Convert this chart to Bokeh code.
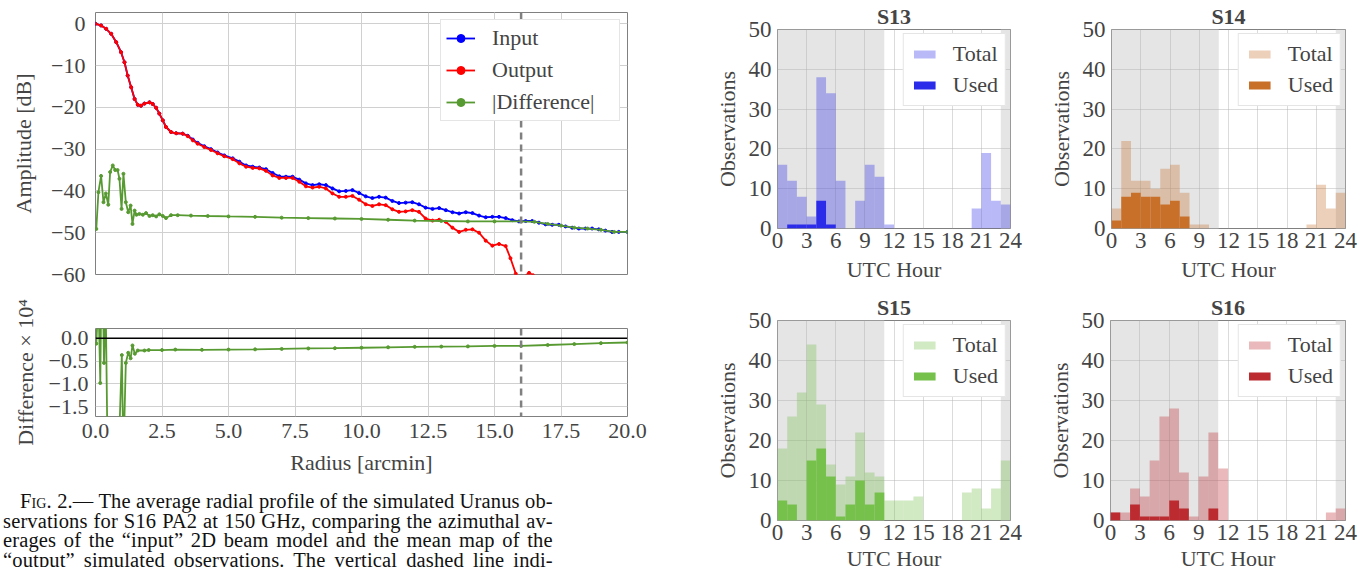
from bokeh.plotting import figure
from bokeh.models import (Range1d, FixedTicker, BoxAnnotation, Legend, Span,
                          LegendItem, Div, Grid, LinearAxis)
from bokeh.layouts import row, column
from bokeh.embed import file_html
from bokeh.resources import INLINE

FONT = "Liberation Serif"

# ---------------- radial profile (left figure) ----------------
r_input = [0.0, 0.21, 0.40, 0.59, 0.78, 0.96, 1.09, 1.21, 1.34, 1.47, 1.59, 1.71,
           1.84, 2.03, 2.15, 2.28, 2.40, 2.53, 2.65, 2.84, 3.03, 3.28, 3.47, 3.66,
           3.84, 4.09, 4.34, 4.59, 4.84, 5.16, 5.41, 5.66, 5.91, 6.16, 6.41, 6.66,
           6.91, 7.16, 7.41, 7.66, 7.91, 8.16, 8.41, 8.66, 8.91, 9.16, 9.41, 9.66,
           9.91, 10.16, 10.41, 10.66, 10.91, 11.16, 11.41, 11.66, 11.91, 12.16,
           12.41, 12.67, 12.92, 13.17, 13.42, 13.67, 13.92, 14.17, 14.42, 14.67,
           14.92, 15.17, 15.42, 15.67, 15.92, 16.17, 16.42, 16.67, 16.92, 17.17,
           17.42, 17.67, 17.92, 18.17, 18.42, 18.67, 18.92, 19.17, 19.42, 19.67, 20.0]
amp_input = [0.0, -0.4, -1.2, -2.4, -4.4, -6.8, -9.2, -12.4, -15.2, -18.0, -19.4, -19.6,
             -19.1, -18.8, -19.2, -20.1, -21.5, -23.1, -24.7, -25.9, -26.2, -26.3, -26.8, -27.7,
             -28.5, -29.3, -30.0, -30.8, -31.5, -32.2, -33.0, -33.9, -34.2, -34.4, -34.8, -35.7,
             -36.5, -36.6, -36.6, -37.3, -38.2, -38.6, -38.4, -38.6, -39.4, -40.1, -40.0, -39.8,
             -40.5, -41.3, -41.7, -41.4, -41.6, -42.4, -42.9, -42.8, -42.7, -43.2,
             -44.0, -44.3, -44.1, -44.6, -45.1, -45.4, -45.1, -45.3, -45.9, -46.3,
             -46.2, -46.2, -46.5, -47.0, -47.3, -47.2, -47.2, -47.6, -48.0, -48.1,
             -48.1, -48.5, -48.8, -49.0, -49.0, -49.0, -49.2, -49.5, -49.8, -49.8, -49.8]

r_output = [0.0, 0.21, 0.40, 0.59, 0.78, 0.96, 1.09, 1.21, 1.34, 1.47, 1.59, 1.71,
            1.84, 2.03, 2.15, 2.28, 2.40, 2.53, 2.65, 2.84, 3.03, 3.28, 3.47, 3.66,
            3.84, 4.09, 4.34, 4.59, 4.84, 5.16, 5.41, 5.66, 5.91, 6.16, 6.41, 6.66,
            6.91, 7.16, 7.41, 7.66, 7.91, 8.16, 8.41, 8.66, 8.91, 9.16, 9.41, 9.66,
            9.91, 10.16, 10.41, 10.66, 10.91, 11.16, 11.41, 11.66, 11.91, 12.16,
            12.41, 12.67, 12.92, 13.17, 13.42, 13.67, 13.92, 14.17, 14.42, 14.67,
            14.92, 15.17, 15.42, 15.60, 15.80, 15.92, 16.10, 16.30, 16.45, 16.60]
amp_output = [0.0, -0.4, -1.2, -2.4, -4.4, -6.8, -9.2, -12.4, -15.2, -18.0, -19.4, -19.6,
              -19.1, -18.8, -19.2, -20.1, -21.5, -23.1, -24.7, -25.9, -26.2, -26.3, -26.9, -27.9,
              -28.7, -29.5, -30.2, -31.0, -31.7, -32.4, -33.4, -34.2, -34.5, -34.6, -35.2, -36.3,
              -36.9, -36.9, -36.9, -37.8, -38.9, -39.2, -39.0, -39.4, -40.6, -41.4, -41.4, -41.2,
              -42.1, -43.2, -43.6, -43.2, -43.4, -44.4, -45.0, -44.9, -44.6, -45.0,
              -46.6, -47.1, -46.9, -47.4, -48.8, -49.8, -49.3, -49.2, -50.0, -51.9,
              -53.1, -52.7, -53.2, -56.1, -59.8, -61.0, -60.6, -59.6, -60.2, -62.0]

r_absdiff = [0.03, 0.11, 0.21, 0.30, 0.39, 0.48, 0.55, 0.65, 0.74, 0.83, 0.90, 0.98,
             1.05, 1.14, 1.23, 1.32, 1.39, 1.47, 1.54, 1.65, 1.78, 1.90, 2.03, 2.15,
             2.28, 2.40, 2.53, 2.65, 2.84, 3.09, 3.59, 4.22, 5.0, 6.0, 7.0, 8.0, 9.0,
             10.0, 11.0, 12.0, 13.0, 14.0, 15.0, 16.0, 16.5, 17.0, 17.5, 18.0, 18.5,
             19.0, 19.5, 20.0]
absdiff_db = [-49.1, -40.3, -36.4, -42.7, -40.6, -43.3, -35.5, -33.9, -35.0, -35.0, -37.1, -44.3,
              -35.9, -42.7, -45.1, -43.5, -47.9, -44.7, -45.7, -45.5, -45.7, -45.3, -46.0, -45.8,
              -46.1, -45.6, -46.0, -46.5, -45.8, -45.8, -45.9, -46.0, -46.1, -46.2, -46.4, -46.5, -46.6,
              -46.7, -46.9, -47.1, -47.2, -47.3, -47.3, -47.3, -47.4, -47.9, -48.3, -48.8, -49.0,
              -49.3, -49.8, -49.8]

r_diff = [0.03, 0.11, 0.18, 0.24, 0.32, 0.38, 0.46, 0.55, 0.65, 0.74, 0.83, 0.90,
          0.99, 1.05, 1.14, 1.23, 1.32, 1.39, 1.48, 1.59, 1.84, 2.0, 2.5, 3.0, 4.0,
          5.0, 6.0, 7.0, 8.0, 9.0, 10.0, 11.0, 12.0, 13.0, 14.0, 15.0, 16.0, 17.0,
          18.0, 19.0, 20.0]
diff_e4 = [-0.12, 0.9, -0.98, 2.3, -0.54, 0.9, -2.8, -4.0, -3.5, -3.5, -2.2, -2.0,
           -0.37, -2.6, -0.54, -0.32, -0.44, -0.16, -0.34, -0.27, -0.27, -0.26, -0.26, -0.25, -0.255,
           -0.25, -0.245, -0.235, -0.225, -0.22, -0.21, -0.20, -0.19, -0.185, -0.18, -0.17, -0.17, -0.15,
           -0.13, -0.11, -0.095]

beam_edge = 16.0
amp_ticks = [0, -10, -20, -30, -40, -50, -60]
amp_labels = ["0", "\u221210", "\u221220", "\u221230", "\u221240", "\u221250", "\u221260"]
radius_ticks = [0, 2.5, 5, 7.5, 10, 12.5, 15, 17.5, 20]
radius_labels = ["0.0", "2.5", "5.0", "7.5", "10.0", "12.5", "15.0", "17.5", "20.0"]
diff_ticks = [0, -0.5, -1, -1.5]
diff_labels = ["0.0", "\u22120.5", "\u22121.0", "\u22121.5"]

# ---------------- observation histograms (right figure) ----------------
hour_edges = list(range(25))
seasons = ["S13", "S14", "S15", "S16"]
total_S13 = [16, 12, 8, 3, 38, 34, 12, 0, 7, 16, 13, 1, 0, 0, 0, 0, 0, 0, 0, 0, 5, 19, 7, 6]
used_S13 = [0, 1, 1, 1, 7, 1, 0, 0, 0, 0, 0, 0, 0, 0, 0, 0, 0, 0, 0, 0, 0, 0, 0, 0]
total_S14 = [5, 22, 12, 12, 10, 15, 16, 9, 1, 1, 0, 0, 0, 0, 0, 0, 0, 0, 0, 0, 1, 11, 5, 9]
used_S14 = [2, 8, 9, 8, 8, 6, 7, 3, 0, 0, 0, 0, 0, 0, 0, 0, 0, 0, 0, 0, 0, 0, 0, 0]
total_S15 = [18, 26, 32, 44, 29, 14, 9, 11, 22, 12, 11, 5, 5, 5, 6, 0, 0, 0, 0, 7, 8, 3, 8, 15]
used_S15 = [5, 4, 0, 15, 18, 11, 1, 4, 10, 4, 7, 0, 0, 0, 0, 0, 0, 0, 0, 0, 0, 0, 0, 0]
total_S16 = [2, 2, 8, 6, 15, 26, 28, 12, 1, 11, 22, 13, 0, 0, 0, 0, 0, 0, 0, 0, 0, 0, 2, 3]
used_S16 = [2, 0, 4, 1, 1, 1, 5, 3, 0, 0, 3, 0, 0, 0, 0, 0, 0, 0, 0, 0, 0, 0, 0, 0]
night_windows = [(0, 11), (23, 24)]
hour_ticks = [0, 3, 6, 9, 12, 15, 18, 21, 24]
obs_ticks = [0, 10, 20, 30, 40, 50]

SEASON_COLORS = {"S13": "#2b2bea", "S14": "#c8702a", "S15": "#76c04c", "S16": "#bb2b30"}

GRID = "#d0d0d0"
OUTLINE = "#808080"
DASH = "#808080"
DASH_PATTERN = "7 5"
DASH_W = 2.5


def style_axes(p, tick_size, label_size):
    for ax in p.axis:
        ax.major_label_text_font = FONT
        ax.major_label_text_font_size = tick_size
        ax.axis_label_text_font = FONT
        ax.axis_label_text_font_size = label_size
        ax.axis_label_text_font_style = "normal"
        ax.major_tick_in = 0
        ax.major_tick_out = 0
        ax.minor_tick_in = 0
        ax.minor_tick_out = 0
        ax.axis_line_color = None
    p.outline_line_color = OUTLINE
    p.outline_line_width = 1
    p.background_fill_color = "white"
    p.border_fill_color = "white"


def gap_dash(p, x, y0, y1):
    # continuation of the dashed marker line outside the frame (between panels):
    # a bare axis rule pinned at x = beam edge, bounded to the gap
    ax = LinearAxis(fixed_location=x, bounds=(y0, y1), ticker=FixedTicker(ticks=[]),
                    axis_line_color=DASH, axis_line_width=DASH_W,
                    axis_line_dash=DASH_PATTERN, major_tick_in=0, major_tick_out=0,
                    minor_tick_in=0, minor_tick_out=0,
                    major_label_text_font_size="0px")
    p.add_layout(ax, "right")


# ---- top panel: amplitude ----
TOP_FH, TOP_GAP = 262, 12
top = figure(frame_width=532, frame_height=TOP_FH, min_border_left=95, min_border_right=63,
             min_border_top=12, min_border_bottom=TOP_GAP, x_range=Range1d(0, 20),
             y_range=Range1d(-60, 2.7), x_axis_location=None,
             toolbar_location=None, output_backend="svg")
top.add_layout(Grid(dimension=0, ticker=FixedTicker(ticks=radius_ticks),
                    grid_line_color=GRID))
top.yaxis.ticker = FixedTicker(ticks=amp_ticks)
top.yaxis.major_label_overrides = dict(zip(amp_ticks, amp_labels))
top.yaxis.axis_label = "Amplitude [dB]"
top.yaxis.major_label_standoff = 10
top.yaxis.axis_label_standoff = 12
top.ygrid.grid_line_color = GRID
style_axes(top, "22px", "22px")

BLUE, RED, GREEN = "#0000ff", "#ff0000", "#589a32"
LW, MS = 1.8, 3
l_in = top.line(r_input, amp_input, line_color=BLUE, line_width=LW)
s_in = top.scatter(r_input, amp_input, color=BLUE, size=MS)
l_out = top.line(r_output, amp_output, line_color=RED, line_width=LW)
s_out = top.scatter(r_output, amp_output, color=RED, size=MS)
l_df = top.line(r_absdiff, absdiff_db, line_color=GREEN, line_width=LW)
s_df = top.scatter(r_absdiff, absdiff_db, color=GREEN, size=MS)

top.add_layout(Span(location=beam_edge, dimension="height", line_color=DASH,
                    line_width=DASH_W, line_dash=DASH_PATTERN))
t_lo, t_hi = top.y_range.start, top.y_range.end
gap_dash(top, beam_edge, t_lo - (TOP_GAP / TOP_FH) * (t_hi - t_lo), t_lo)
leg = Legend(items=[LegendItem(label="Input", renderers=[l_in, s_in]),
                    LegendItem(label="Output", renderers=[l_out, s_out]),
                    LegendItem(label="|Difference|", renderers=[l_df, s_df])],
             location="top_right", margin=7, padding=5, spacing=6,
             glyph_width=29, glyph_height=20, label_standoff=17, label_width=122,
             label_text_font=FONT, label_text_font_size="22px",
             border_line_color="#cccccc", background_fill_alpha=1)
top.add_layout(leg)

# ---- bottom panel: difference ----
BOT_FH, BOT_GAP = 88, 42
bot = figure(frame_width=532, frame_height=BOT_FH, min_border_left=95, min_border_right=63,
             min_border_top=BOT_GAP, min_border_bottom=64, x_range=Range1d(0, 20),
             y_range=Range1d(-1.71, 0.21), toolbar_location=None, output_backend="svg")
bot.xaxis.ticker = FixedTicker(ticks=radius_ticks)
bot.xaxis.major_label_overrides = dict(zip(radius_ticks, radius_labels))
bot.yaxis.ticker = FixedTicker(ticks=diff_ticks)
bot.yaxis.major_label_overrides = dict(zip(diff_ticks, diff_labels))
bot.xaxis.axis_label = "Radius [arcmin]"
bot.yaxis.axis_label = "Difference \u00d7 10\u2074"
bot.xaxis.major_label_standoff = 7
bot.xaxis.axis_label_standoff = 9
bot.yaxis.major_label_standoff = 7
bot.yaxis.axis_label_standoff = 8
bot.grid.grid_line_color = GRID
style_axes(bot, "22px", "22px")
bot.add_layout(Span(location=0, dimension="width", line_color="black", line_width=1.5))
bot.line(r_diff, diff_e4, line_color=GREEN, line_width=LW)
bot.scatter(r_diff, diff_e4, color=GREEN, size=MS)
bot.add_layout(Span(location=beam_edge, dimension="height", line_color=DASH,
                    line_width=DASH_W, line_dash=DASH_PATTERN))
b_lo, b_hi = bot.y_range.start, bot.y_range.end
gap_dash(bot, beam_edge, b_hi, b_hi + (BOT_GAP / BOT_FH) * (b_hi - b_lo))

caption_lines = [
    '<span style="font-variant:small-caps">Fig. 2.</span>\u2014 The average radial profile of the simulated Uranus ob-',
    'servations for S16 PA2 at 150 GHz, comparing the azimuthal av-',
    'erages of the \u201cinput\u201d 2D beam model and the mean map of the',
    '\u201coutput\u201d simulated observations. The vertical dashed line indi-',
]
cap_html = "".join(
    '<div style="text-align:justify;text-align-last:justify;%s">%s</div>'
    % ("text-indent:17px;" if i == 0 else "", t) for i, t in enumerate(caption_lines))
caption = Div(text=cap_html, width=690, height=87, margin=(0, 0, 0, 0),
              styles={"font-family": FONT, "font-size": "20.5px", "line-height": "19.7px",
                      "letter-spacing": "0.15px",
                      "padding": "12px 58px 0px 3px", "box-sizing": "border-box",
                      "overflow": "hidden", "color": "#111111"})

left = column(top, bot, caption, spacing=0)


def hist_panel(name, total, used, ml, mr, mt, mb, fw, fh, xlab_standoff):
    p = figure(frame_width=fw, frame_height=fh, min_border_left=ml, min_border_right=mr,
               min_border_top=mt, min_border_bottom=mb, x_range=Range1d(0, 24),
               y_range=Range1d(0, 50), title=name, toolbar_location=None,
               output_backend="svg")
    for a, b in night_windows:
        p.add_layout(BoxAnnotation(left=a, right=b, fill_color="#e5e5e5", fill_alpha=1,
                                   line_color=None, level="image"))
    col = SEASON_COLORS[name]
    rt = p.quad(left=hour_edges[:-1], right=hour_edges[1:], bottom=0, top=total,
                fill_color=col, fill_alpha=0.33, line_color=None)
    ru = p.quad(left=hour_edges[:-1], right=hour_edges[1:], bottom=0, top=used,
                fill_color=col, fill_alpha=1.0, line_color=None)
    p.xaxis.ticker = FixedTicker(ticks=hour_ticks)
    p.yaxis.ticker = FixedTicker(ticks=obs_ticks)
    p.xaxis.axis_label = "UTC Hour"
    p.yaxis.axis_label = "Observations"
    p.xaxis.major_label_standoff = 4
    p.xaxis.axis_label_standoff = xlab_standoff
    p.yaxis.major_label_standoff = 6
    p.yaxis.axis_label_standoff = 6
    p.grid.grid_line_color = "#b0b0b0"
    p.grid.grid_line_alpha = 0.45
    style_axes(p, "23px", "22px")
    p.title.text_font = FONT
    p.title.text_font_size = "22px"
    p.title.text_font_style = "bold"
    p.title.align = "center"
    p.title.standoff = 2
    lg = Legend(items=[LegendItem(label="Total", renderers=[rt]),
                       LegendItem(label="Used", renderers=[ru])],
                location="top_right", margin=4, padding=7, spacing=5,
                glyph_width=27, glyph_height=10, label_standoff=15,
                label_text_font=FONT, label_text_font_size="22px",
                border_line_color="#cccccc", background_fill_alpha=1)
    p.add_layout(lg)
    return p


h13 = hist_panel("S13", total_S13, used_S13, 87, 30, 28, 63, 233, 199, 6)
h14 = hist_panel("S14", total_S14, used_S14, 71, 26, 28, 63, 234, 199, 6)
h15 = hist_panel("S15", total_S15, used_S15, 87, 30, 29, 48, 233, 200, 3)
h16 = hist_panel("S16", total_S16, used_S16, 70, 26, 28, 49, 235, 200, 3)

right = column(row(h13, h14, spacing=0), row(h15, h16, spacing=0), spacing=0)
layout = row(left, right, spacing=0)

open("out.html", "w").write(file_html(layout, INLINE))
